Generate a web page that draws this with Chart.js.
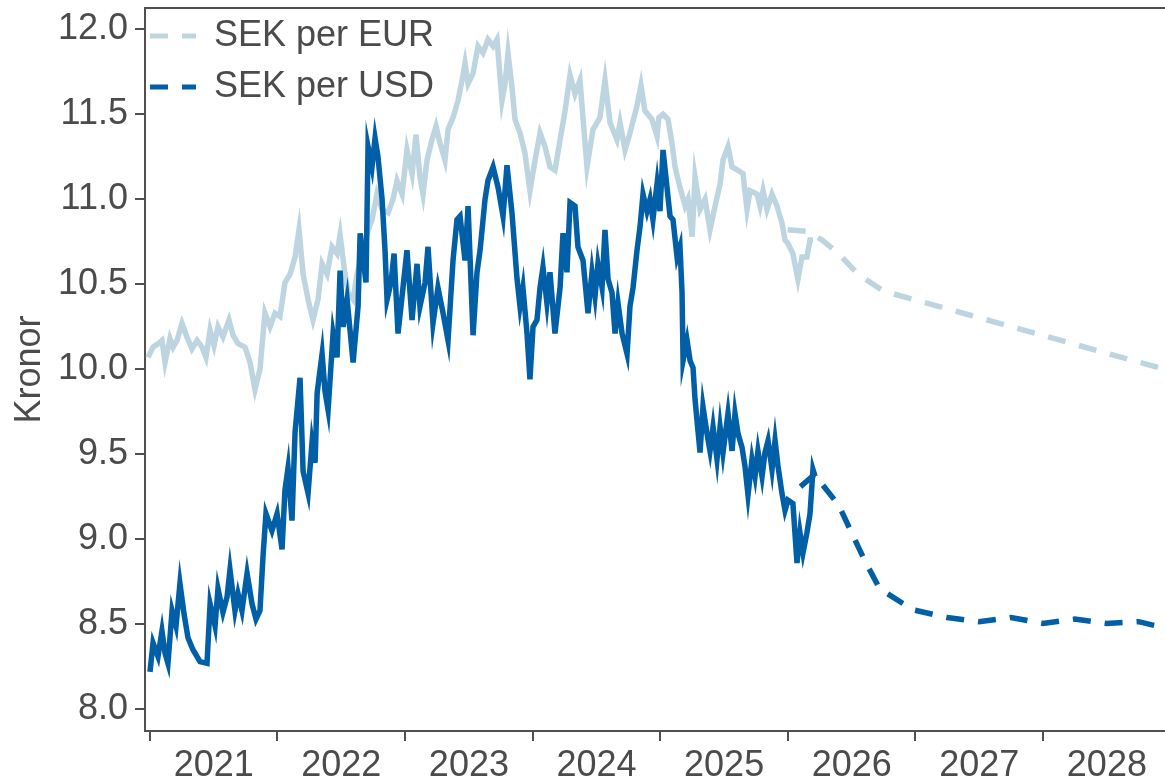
<!DOCTYPE html>
<html>
<head>
<meta charset="utf-8">
<script src="https://cdn.jsdelivr.net/npm/chart.js@4.4.1/dist/chart.umd.min.js"></script>
<style>
html,body{margin:0;padding:0;background:#ffffff;}
#wrap{width:1165px;height:781px;}
canvas{display:block;}
</style>
</head>
<body>
<div id="wrap"><canvas id="c" width="1165" height="781"></canvas></div>
<script>
// ---- Data (decimal years, SEK) ----
const legendLabels = ['SEK per EUR', 'SEK per USD'];
const yearTicks = [2021, 2022, 2023, 2024, 2025, 2026, 2027, 2028];
const yTicks = [8.0, 8.5, 9.0, 9.5, 10.0, 10.5, 11.0, 11.5, 12.0];

const usdDates = [2021.002,2021.026,2021.065,2021.096,2021.120,2021.143,2021.175,2021.206,2021.237,2021.269,
2021.300,2021.339,2021.394,2021.449,2021.473,2021.512,2021.535,2021.574,2021.606,2021.629,
2021.668,2021.692,2021.723,2021.763,2021.802,2021.833,2021.864,2021.888,2021.911,2021.958,
2021.998,2022.037,2022.060,2022.084,2022.115,2022.139,2022.178,2022.202,2022.241,2022.272,
2022.296,2022.312,2022.351,2022.374,2022.398,2022.437,2022.468,2022.492,2022.516,2022.547,
2022.594,2022.633,2022.649,2022.695,2022.711,2022.742,2022.766,2022.789,2022.821,2022.844,
2022.860,2022.891,2022.915,2022.946,2022.985,2023.016,2023.056,2023.095,2023.118,2023.158,
2023.181,2023.220,2023.259,2023.299,2023.338,2023.377,2023.408,2023.432,2023.471,2023.495,
2023.534,2023.565,2023.589,2023.628,2023.651,2023.691,2023.730,2023.769,2023.800,2023.839,
2023.879,2023.902,2023.925,2023.957,2023.980,2024.004,2024.035,2024.059,2024.082,2024.113,
2024.137,2024.176,2024.216,2024.239,2024.270,2024.294,2024.333,2024.356,2024.396,2024.435,
2024.466,2024.490,2024.513,2024.545,2024.568,2024.592,2024.623,2024.647,2024.670,2024.702,
2024.741,2024.764,2024.788,2024.819,2024.843,2024.866,2024.897,2024.921,2024.944,2024.976,
2024.999,2025.023,2025.054,2025.078,2025.101,2025.133,2025.156,2025.172,2025.180,2025.211,
2025.235,2025.258,2025.274,2025.289,2025.313,2025.336,2025.368,2025.391,2025.415,2025.446,
2025.470,2025.493,2025.532,2025.564,2025.587,2025.611,2025.642,2025.665,2025.689,2025.720,
2025.744,2025.767,2025.799,2025.822,2025.846,2025.877,2025.901,2025.924,2025.955,2025.979,
2026.002,2026.041,2026.073,2026.096,2026.120,2026.151,2026.175,2026.198,2026.214];
const usdValues = [8.22,8.39,8.31,8.46,8.33,8.27,8.58,8.49,8.74,8.56,
8.42,8.35,8.28,8.27,8.62,8.49,8.71,8.57,8.66,8.82,
8.58,8.68,8.58,8.80,8.62,8.53,8.58,8.90,9.15,9.05,
9.15,8.94,9.29,9.42,9.11,9.63,9.95,9.40,9.27,9.57,
9.45,9.86,10.09,9.87,9.76,10.21,10.07,10.58,10.25,10.41,
10.04,10.37,10.80,10.51,11.31,11.19,11.36,11.25,11.00,10.70,
10.41,10.51,10.68,10.21,10.48,10.70,10.29,10.62,10.37,10.51,
10.72,10.27,10.48,10.33,10.17,10.64,10.88,10.90,10.64,10.96,
10.20,10.57,10.70,11.00,11.11,11.19,11.07,10.90,11.20,10.92,
10.53,10.37,10.48,10.21,9.94,10.25,10.29,10.48,10.60,10.39,
10.57,10.21,10.48,10.80,10.57,10.98,10.96,10.72,10.64,10.33,
10.57,10.43,10.62,10.48,10.82,10.53,10.45,10.21,10.39,10.21,
10.09,10.37,10.48,10.70,10.84,11.03,10.93,11.00,10.88,11.09,
10.93,11.29,11.07,10.90,10.88,10.66,10.72,10.45,10.05,10.17,
10.05,10.01,9.82,9.70,9.51,9.78,9.62,9.52,9.66,9.47,
9.66,9.51,9.74,9.52,9.74,9.62,9.54,9.43,9.26,9.47,
9.37,9.52,9.37,9.51,9.58,9.41,9.58,9.43,9.27,9.17,
9.23,9.21,8.86,9.04,8.92,9.04,9.15,9.41,9.37];

const eurDates = [2020.987,2021.026,2021.065,2021.096,2021.120,2021.159,2021.183,2021.214,2021.253,2021.292,
2021.331,2021.371,2021.410,2021.441,2021.473,2021.504,2021.535,2021.574,2021.621,2021.653,
2021.692,2021.747,2021.786,2021.825,2021.864,2021.903,2021.943,2021.982,2022.021,2022.060,
2022.100,2022.139,2022.170,2022.202,2022.241,2022.280,2022.319,2022.351,2022.390,2022.429,
2022.468,2022.492,2022.523,2022.554,2022.594,2022.625,2022.664,2022.703,2022.742,2022.781,
2022.821,2022.868,2022.907,2022.938,2022.978,2023.016,2023.056,2023.087,2023.118,2023.142,
2023.173,2023.212,2023.244,2023.275,2023.314,2023.338,2023.377,2023.416,2023.448,2023.471,
2023.495,2023.534,2023.573,2023.612,2023.651,2023.691,2023.722,2023.761,2023.785,2023.808,
2023.839,2023.863,2023.902,2023.941,2023.980,2024.020,2024.059,2024.098,2024.137,2024.176,
2024.216,2024.255,2024.294,2024.333,2024.372,2024.427,2024.474,2024.529,2024.568,2024.608,
2024.662,2024.686,2024.725,2024.764,2024.819,2024.850,2024.881,2024.936,2024.976,2024.990,
2025.023,2025.062,2025.093,2025.117,2025.156,2025.196,2025.219,2025.251,2025.274,2025.313,
2025.352,2025.391,2025.431,2025.470,2025.493,2025.532,2025.564,2025.611,2025.650,2025.681,
2025.705,2025.760,2025.783,2025.807,2025.838,2025.877,2025.916,2025.955,2025.979,2026.002,
2026.041,2026.080,2026.112,2026.151,2026.175,2026.198];
const eurValues = [10.07,10.13,10.15,10.17,10.04,10.18,10.13,10.17,10.27,10.19,
10.12,10.17,10.13,10.07,10.23,10.14,10.25,10.19,10.29,10.20,
10.15,10.13,10.04,9.88,10.00,10.33,10.25,10.33,10.31,10.51,
10.56,10.66,10.82,10.56,10.41,10.29,10.41,10.62,10.56,10.72,
10.68,10.79,10.60,10.45,10.41,10.56,10.68,10.80,10.88,11.03,
10.94,10.92,11.00,11.11,11.03,11.29,11.15,11.38,11.13,11.03,
11.23,11.35,11.43,11.33,11.23,11.41,11.48,11.58,11.70,11.80,
11.68,11.74,11.90,11.86,11.94,11.90,11.94,11.58,11.68,11.86,
11.66,11.47,11.39,11.27,11.05,11.23,11.39,11.31,11.19,11.17,
11.35,11.52,11.73,11.62,11.70,11.19,11.41,11.48,11.70,11.45,
11.35,11.45,11.29,11.39,11.55,11.67,11.52,11.47,11.37,11.48,
11.50,11.47,11.33,11.19,11.07,10.96,11.00,10.78,11.13,10.94,
11.00,10.82,10.96,11.09,11.23,11.31,11.19,11.17,11.15,10.94,
11.05,11.03,10.96,11.05,10.94,11.03,10.96,10.86,10.76,10.74,
10.68,10.53,10.66,10.66,10.76,10.76];

const eurForecastDates = [2026.00, 2026.16, 2026.27, 2026.40, 2026.55, 2026.75, 2029.00];
const eurForecastValues = [10.82, 10.81, 10.76, 10.68, 10.56, 10.46, 9.99];
const usdForecastDates = [2026.10, 2026.21, 2026.40, 2026.60, 2026.72, 2026.98, 2027.25, 2027.50, 2027.75, 2028.00, 2028.25, 2028.50, 2028.75, 2029.00];
const usdForecastValues = [9.31, 9.38, 9.20, 8.88, 8.71, 8.585, 8.54, 8.515, 8.54, 8.505, 8.53, 8.505, 8.515, 8.47];

// ---- Styling ----
const EUR_COLOR = '#bdd5e1';
const USD_COLOR = '#005fa6';
const TEXT_COLOR = '#4b4b4b';
const AXIS_COLOR = '#505050';
const FONT = "'Liberation Sans', Arial, Helvetica, sans-serif";
const FS = 36;
const DASH = [18, 14];
const LINE_W = 5.5;

Chart.defaults.font.family = FONT;
Chart.defaults.font.size = FS;
Chart.defaults.color = TEXT_COLOR;

const pts = (xs, ys) => xs.map((x, i) => ({x: x, y: ys[i]}));

const X_MIN = 2020.963, X_MAX = 2028.957;
const Y_MIN = 7.872, Y_MAX = 12.125;

const legendShift = {
  id: 'legendShift',
  afterLayout(chart) {
    const lg = chart.legend;
    if (lg) { lg.left -= 10; lg.top += 3; }
  }
};

new Chart(document.getElementById('c'), {
  type: 'line',
  data: {
    datasets: [
      {label: 'SEK per USD', data: pts(usdDates, usdValues), borderColor: USD_COLOR, borderWidth: LINE_W, order: 0, xAxisID: 'x', yAxisID: 'y'},
      {label: 'SEK per USD prognos', data: pts(usdForecastDates, usdForecastValues), borderColor: USD_COLOR, borderWidth: LINE_W, borderDash: DASH, order: 1, xAxisID: 'x', yAxisID: 'y'},
      {label: 'SEK per EUR', data: pts(eurDates, eurValues), borderColor: EUR_COLOR, borderWidth: LINE_W, order: 2, xAxisID: 'x', yAxisID: 'y'},
      {label: 'SEK per EUR prognos', data: pts(eurForecastDates, eurForecastValues), borderColor: EUR_COLOR, borderWidth: LINE_W, borderDash: DASH, order: 3, xAxisID: 'x', yAxisID: 'y'}
    ]
  },
  options: {
    responsive: false,
    animation: false,
    devicePixelRatio: 1,
    layout: {padding: 0},
    elements: {
      point: {radius: 0, hoverRadius: 0},
      line: {tension: 0, fill: false, borderJoinStyle: 'miter', borderCapStyle: 'butt'}
    },
    plugins: {
      tooltip: {enabled: false},
      legend: {
        display: true,
        position: 'chartArea',
        align: 'start',
        labels: {
          usePointStyle: true,
          pointStyleWidth: 46,
          padding: 15,
          color: TEXT_COLOR,
          font: {size: FS, family: FONT},
          generateLabels: () => legendLabels.map((t, i) => ({
            text: t,
            fillStyle: i === 0 ? EUR_COLOR : USD_COLOR,
            strokeStyle: i === 0 ? EUR_COLOR : USD_COLOR,
            fontColor: TEXT_COLOR,
            lineWidth: 5,
            lineDash: DASH,
            lineCap: 'butt',
            pointStyle: 'line',
            hidden: false,
            datasetIndex: i === 0 ? 2 : 0
          }))
        }
      }
    },
    scales: {
      x: {
        type: 'linear',
        position: 'bottom',
        min: X_MIN,
        max: X_MAX,
        afterBuildTicks: (s) => { s.ticks = yearTicks.map(v => ({value: v})); },
        afterFit: (s) => { s.height = 50; s.paddingLeft = 0; s.paddingRight = 0; },
        ticks: {
          autoSkip: false,
          maxRotation: 0,
          minRotation: 0,
          labelOffset: 64,
          padding: 3,
          color: TEXT_COLOR,
          font: {size: FS, family: FONT},
          callback: (v) => String(v)
        },
        grid: {display: true, drawOnChartArea: false, drawTicks: true, tickLength: 10, color: AXIS_COLOR, lineWidth: 2},
        border: {display: true, color: AXIS_COLOR, width: 2}
      },
      xTop: {
        type: 'linear',
        position: 'top',
        display: true,
        min: X_MIN,
        max: X_MAX,
        afterBuildTicks: (s) => { s.ticks = yearTicks.map(v => ({value: v})); },
        ticks: {display: false},
        grid: {display: true, drawOnChartArea: false, drawTicks: false, tickLength: 0, color: AXIS_COLOR, lineWidth: 2},
        border: {display: true, color: AXIS_COLOR, width: 2},
        afterFit: (s) => { s.height = 8; s.paddingLeft = 0; s.paddingRight = 0; }
      },
      y: {
        type: 'linear',
        position: 'left',
        min: Y_MIN,
        max: Y_MAX,
        afterBuildTicks: (s) => { s.ticks = yTicks.map(v => ({value: v})); },
        afterFit: (s) => { s.width = 145; s.paddingTop = 0; s.paddingBottom = 0; },
        ticks: {
          padding: 7,
          color: TEXT_COLOR,
          font: {size: FS, family: FONT},
          callback: (v) => Number(v).toFixed(1)
        },
        title: {
          display: true,
          text: 'Kronor',
          color: TEXT_COLOR,
          font: {size: FS, family: FONT},
          padding: {top: 8, bottom: 0}
        },
        grid: {display: true, drawOnChartArea: false, drawTicks: true, tickLength: 10, color: AXIS_COLOR, lineWidth: 2},
        border: {display: true, color: AXIS_COLOR, width: 2}
      }
    }
  },
  plugins: [legendShift]
});
</script>
</body>
</html>
